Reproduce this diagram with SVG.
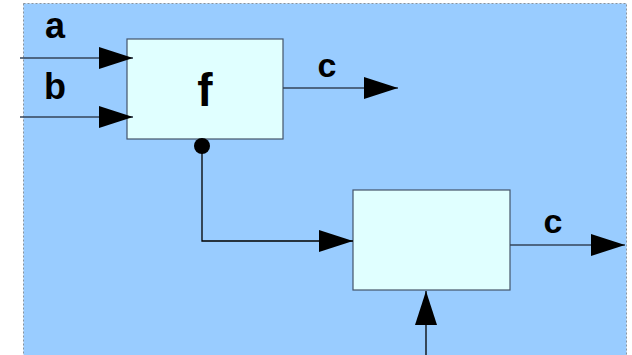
<svg xmlns="http://www.w3.org/2000/svg" width="632" height="355" viewBox="0 0 632 355">
<defs>
<style>
.lbl{font-family:"Liberation Sans",Arial,sans-serif;font-weight:bold;fill:#000;}
.box{fill:#e0ffff;stroke:#44546a;stroke-width:1.2;}
.ln{stroke:#000;stroke-width:1.3;fill:none;}
.ln2{stroke:#34445a;stroke-width:1.3;fill:none;}
</style>
<marker id="ah" markerUnits="userSpaceOnUse" viewBox="0 0 34 22" refX="34" refY="11" markerWidth="34" markerHeight="22" orient="auto">
<path d="M0,0 L34,11 L0,22 Z" fill="#000"/>
</marker>
<marker id="dot" markerUnits="userSpaceOnUse" viewBox="0 0 18 18" refX="9" refY="9" markerWidth="18" markerHeight="18">
<circle cx="9" cy="9" r="8" fill="#000"/>
</marker>
</defs>
<rect x="23.5" y="3.5" width="603" height="360" fill="#99ccff" stroke="#8a949e" stroke-width="1" stroke-dasharray="2,2"/>
<g id="node-f">
<rect class="box" x="127" y="39" width="156" height="100"/>
<text class="lbl" x="205" y="106" font-size="46" text-anchor="middle">f</text>
</g>
<g id="node-2">
<rect class="box" x="353" y="190" width="157" height="100"/>
</g>
<g id="connectors">
<line class="ln2" x1="20" y1="58" x2="133" y2="58" marker-end="url(#ah)"/>
<line class="ln2" x1="20" y1="117" x2="133" y2="117" marker-end="url(#ah)"/>
<line class="ln2" x1="283" y1="88" x2="398" y2="88" marker-end="url(#ah)"/>
<line class="ln2" x1="510" y1="245" x2="625" y2="245" marker-end="url(#ah)"/>
<polyline class="ln" points="202,146 202,241 353,241" marker-start="url(#dot)" marker-end="url(#ah)"/>
<line class="ln" x1="426" y1="360" x2="426" y2="291" marker-end="url(#ah)"/>
</g>
<g id="labels">
<text class="lbl" x="55" y="38" font-size="36" text-anchor="middle">a</text>
<text class="lbl" x="55" y="99" font-size="36" text-anchor="middle">b</text>
<text class="lbl" x="327" y="77" font-size="34" text-anchor="middle">c</text>
<text class="lbl" x="553" y="233" font-size="34" text-anchor="middle">c</text>
</g>
</svg>
